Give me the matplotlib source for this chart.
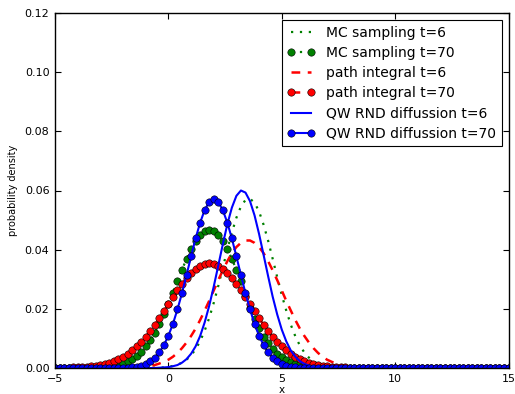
import numpy as np
import matplotlib
matplotlib.use("Agg")
import matplotlib.pyplot as plt

# x grid (step 0.2 from -5 to 15, 101 points)
x_start, x_stop, x_step = -5.0, 15.0, 0.2

# MC sampling t=6 (green dotted)
mc_t6 = [0.0] * 22 + [
    0.0001, 0.0001, 0.0002, 0.0004, 0.0007, 0.0011, 0.0018, 0.0028, 0.0043, 0.0063,
    0.0091, 0.0126, 0.0169, 0.0220, 0.0277, 0.0339, 0.0400, 0.0458, 0.0508, 0.0546,
    0.0568, 0.0572, 0.0559, 0.0529, 0.0484, 0.0430, 0.0369, 0.0307, 0.0247, 0.0194,
    0.0146, 0.0107, 0.0076, 0.0052, 0.0035, 0.0022, 0.0014, 0.0009, 0.0005, 0.0003,
    0.0002, 0.0001] + [0.0] * 37

# MC sampling t=70 (green markers)
mc_t70 = [0.0] * 7 + [
    0.0001, 0.0001, 0.0002, 0.0003, 0.0004, 0.0006, 0.0009, 0.0012, 0.0016, 0.0022,
    0.0030, 0.0041, 0.0055, 0.0073, 0.0094, 0.0119, 0.0148, 0.0181, 0.0217, 0.0255,
    0.0294, 0.0332, 0.0369, 0.0402, 0.0430, 0.0451, 0.0464, 0.0468,
    0.0464, 0.0451, 0.0430, 0.0402, 0.0369, 0.0332, 0.0294, 0.0245, 0.0203, 0.0166,
    0.0134, 0.0106, 0.0083, 0.0064, 0.0048, 0.0036, 0.0027, 0.0020, 0.0015, 0.0012,
    0.0009, 0.0006, 0.0004, 0.0003, 0.0002, 0.0001, 0.0001] + [0.0] * 39

# path integral t=6 (red dashed)
pi_t6 = [0.0] * 16 + [
    0.0001, 0.0001, 0.0002, 0.0003, 0.0005, 0.0007, 0.0010, 0.0015, 0.0021, 0.0028,
    0.0038, 0.0051, 0.0067, 0.0086, 0.0108, 0.0133, 0.0162, 0.0194, 0.0227, 0.0262,
    0.0297, 0.0330, 0.0361, 0.0388, 0.0409, 0.0423, 0.0431,
    0.0431, 0.0423, 0.0409, 0.0388, 0.0361, 0.0330, 0.0297, 0.0262, 0.0227, 0.0194,
    0.0162, 0.0133, 0.0108, 0.0086, 0.0067, 0.0051, 0.0038, 0.0028, 0.0021, 0.0015,
    0.0010, 0.0007, 0.0005, 0.0003, 0.0002, 0.0001, 0.0001] + [0.0] * 31

# path integral t=70 (red markers)
pi_t70 = [0.0] * 2 + [
    0.0001, 0.0001, 0.0002, 0.0002, 0.0003, 0.0004, 0.0006, 0.0008, 0.0011, 0.0014,
    0.0018, 0.0023, 0.0030, 0.0038, 0.0048, 0.0060, 0.0073, 0.0089, 0.0106, 0.0125,
    0.0146, 0.0168, 0.0192, 0.0215, 0.0239, 0.0262, 0.0284, 0.0304, 0.0322, 0.0336,
    0.0346, 0.0353, 0.0355,
    0.0353, 0.0346, 0.0336, 0.0322, 0.0304, 0.0284, 0.0262, 0.0239, 0.0215, 0.0192,
    0.0168, 0.0146, 0.0125, 0.0106, 0.0089, 0.0073, 0.0060, 0.0048, 0.0038, 0.0030,
    0.0023, 0.0018, 0.0014, 0.0011, 0.0008, 0.0006, 0.0004, 0.0003, 0.0002, 0.0002,
    0.0001, 0.0001] + [0.0] * 34

# QW RND diffusion t=6 (blue solid)
qw_t6 = [0.0] * 23 + [
    0.0001, 0.0002, 0.0003, 0.0006, 0.0010, 0.0018, 0.0030, 0.0048, 0.0073, 0.0108,
    0.0154, 0.0210, 0.0275, 0.0346, 0.0418, 0.0486, 0.0542, 0.0582, 0.0600, 0.0593,
    0.0564, 0.0516, 0.0453, 0.0382, 0.0310, 0.0241, 0.0181, 0.0130, 0.0090, 0.0059,
    0.0038, 0.0023, 0.0014, 0.0008, 0.0004, 0.0002, 0.0001] + [0.0] * 41

# QW RND diffusion t=70 (blue markers)
qw_t70 = [0.0] * 15 + [
    0.0001, 0.0001, 0.0003, 0.0005, 0.0008, 0.0014, 0.0022, 0.0035, 0.0053, 0.0077,
    0.0109, 0.0149, 0.0198, 0.0253, 0.0314, 0.0377, 0.0438, 0.0491, 0.0534, 0.0561,
    0.0570,
    0.0561, 0.0534, 0.0491, 0.0438, 0.0377, 0.0314, 0.0253, 0.0198, 0.0149, 0.0109,
    0.0077, 0.0053, 0.0035, 0.0022, 0.0014, 0.0008, 0.0005, 0.0003, 0.0001, 0.0001] + [0.0] * 45

labels = ["MC sampling t=6", "MC sampling t=70", "path integral t=6",
          "path integral t=70", "QW RND diffussion t=6", "QW RND diffussion t=70"]
xticks = [-5, 0, 5, 10, 15]
yticks = [0.00, 0.02, 0.04, 0.06, 0.08, 0.10, 0.12]

x = np.round(np.arange(x_start, x_stop + x_step / 2, x_step), 1)

fig = plt.figure(figsize=(5.15, 3.94), dpi=100)
ax = fig.add_axes([55 / 515, 26 / 394, 453.5 / 515, 355 / 394])

green = (0, 0.5, 0)
red = (1, 0, 0)
blue = (0, 0, 1)
dot = (0, (1, 3))
dash = (0, (3.5, 3))
ms = 5.3
mew = 0.4

ax.plot(x, mc_t6, color=green, linestyle=dot, lw=1.6, label=labels[0])
ax.plot(x, mc_t70, color=green, linestyle=dot, lw=1.6, marker='o', ms=ms,
        markeredgecolor='k', markeredgewidth=mew, label=labels[1])
ax.plot(x, pi_t6, color=red, linestyle=dash, lw=1.8, label=labels[2])
ax.plot(x, pi_t70, color=red, linestyle=dash, lw=1.8, marker='o', ms=ms,
        markeredgecolor='k', markeredgewidth=mew, label=labels[3])
ax.plot(x, qw_t6, color=blue, linestyle='-', lw=1.5, label=labels[4])
ax.plot(x, qw_t70, color=blue, linestyle='-', lw=1.5, marker='o', ms=ms,
        markeredgecolor='k', markeredgewidth=mew, label=labels[5])

ax.set_xlim(-5, 15)
ax.set_ylim(0, 0.12)
ax.set_xticks(xticks)
ax.set_yticks(yticks)
ax.set_yticklabels([f"{v:.2f}" for v in yticks])
ax.tick_params(direction='in', length=4, width=0.8, top=True, right=True,
               labelsize=8, pad=4)
for s in ax.spines.values():
    s.set_linewidth(1.0)
ax.set_xlabel("x", fontsize=7.5, labelpad=1)
ax.set_ylabel("probability density", fontsize=7, labelpad=5)

leg = ax.legend(loc='upper right', fontsize=10, numpoints=2, fancybox=False,
                frameon=True, edgecolor='k', framealpha=1, labelspacing=0.45,
                handlelength=2.0, handletextpad=0.8, borderpad=0.4,
                borderaxespad=0.5)
leg.get_frame().set_linewidth(0.8)

fig.savefig("out.png", dpi=100)
